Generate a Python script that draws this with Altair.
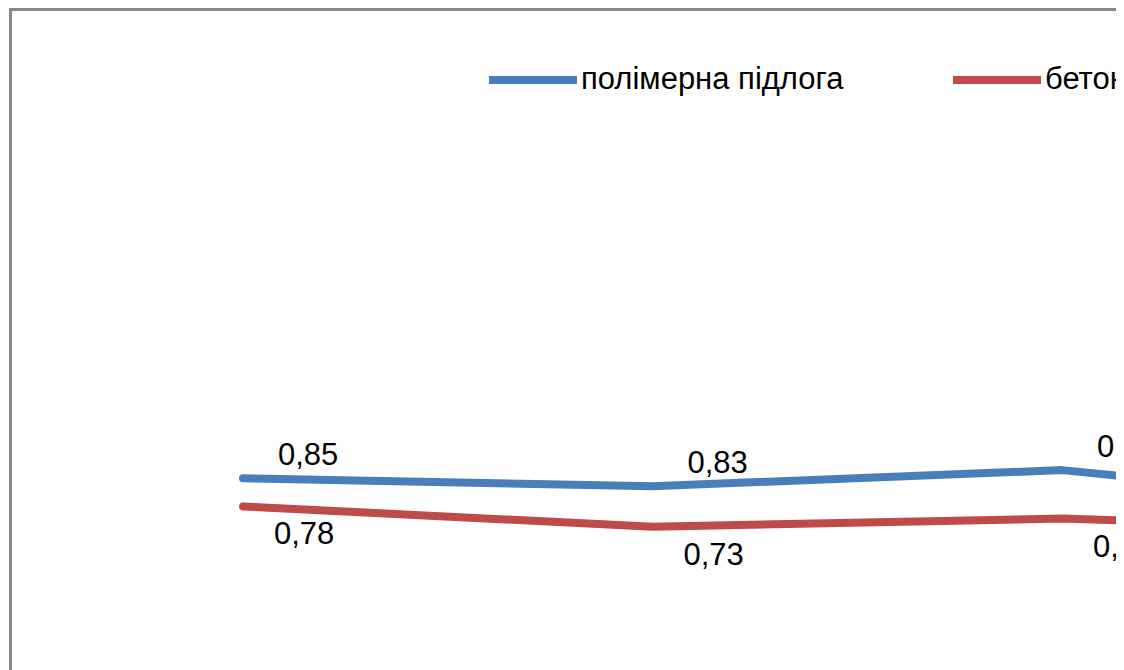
import altair as alt
import pandas as pd

# ---- data ----
series_names = ["полімерна підлога", "бетонна підлога"]
points = [1, 2, 3, 4]
polymer = [0.85, 0.83, 0.87, 0.77]
concrete = [0.78, 0.73, 0.75, 0.72]
colors = ["#4A7EBB", "#BE4B48"]

rows = []
for s, vals in zip(series_names, [polymer, concrete]):
    for p, v in zip(points, vals):
        rows.append({"series": s, "point": p, "value": v})
df = pd.DataFrame(rows)

W, H = 1108, 662
FONT = "Liberation Sans"

x_scale = alt.Scale(domain=[0.4261, 3.1318], nice=False, zero=False)
y_scale = alt.Scale(domain=[0.3752, 2.0139], nice=False, zero=False)

base = alt.Chart(df).encode(
    x=alt.X("point:Q", scale=x_scale, axis=None),
    y=alt.Y("value:Q", scale=y_scale, axis=None),
)

lines = base.mark_line(
    strokeWidth=8, strokeCap="round", strokeJoin="round", clip=True
).encode(
    color=alt.Color(
        "series:N",
        scale=alt.Scale(domain=series_names, range=colors),
        legend=alt.Legend(
            title=None,
            orient="none",
            legendX=477,
            legendY=24,
            direction="horizontal",
            symbolType="stroke",
            symbolSize=7744,
            symbolStrokeWidth=8,
            labelFont=FONT,
            labelFontSize=31,
            labelColor="black",
            labelOffset=0,
            columnPadding=93,
            labelLimit=500,
        ),
    ),
    detail="series:N",
)

labelled = base.transform_calculate(
    label="replace(format(datum.value, '.2f'), '.', ',')"
)

blue_labels = labelled.transform_filter(
    alt.datum.series == series_names[0]
).mark_text(
    align="left", baseline="alphabetic", dx=35, dy=-13,
    font=FONT, fontSize=31, color="black", clip=True
).encode(text="label:N")

red_labels = labelled.transform_filter(
    alt.datum.series == series_names[1]
).mark_text(
    align="left", baseline="alphabetic", dx=31, dy=38,
    font=FONT, fontSize=31, color="black", clip=True
).encode(text="label:N")

frame_src = pd.DataFrame({"k": [0]})
left_edge = alt.Chart(frame_src).mark_rule(color="#878787", strokeWidth=3).encode(
    x=alt.value(2.5), y=alt.value(0), y2=alt.value(H)
)
top_edge = alt.Chart(frame_src).mark_rule(color="#878787", strokeWidth=3).encode(
    x=alt.value(1), x2=alt.value(W), y=alt.value(1.5)
)

chart = alt.layer(lines, blue_labels, red_labels, left_edge, top_edge).properties(
    width=W,
    height=H,
    padding=0,
    autosize=alt.AutoSizeParams(type="none"),
    background="white",
).configure_view(stroke=None)

chart.save("out.html", embed_options={"renderer": "svg", "actions": False})
